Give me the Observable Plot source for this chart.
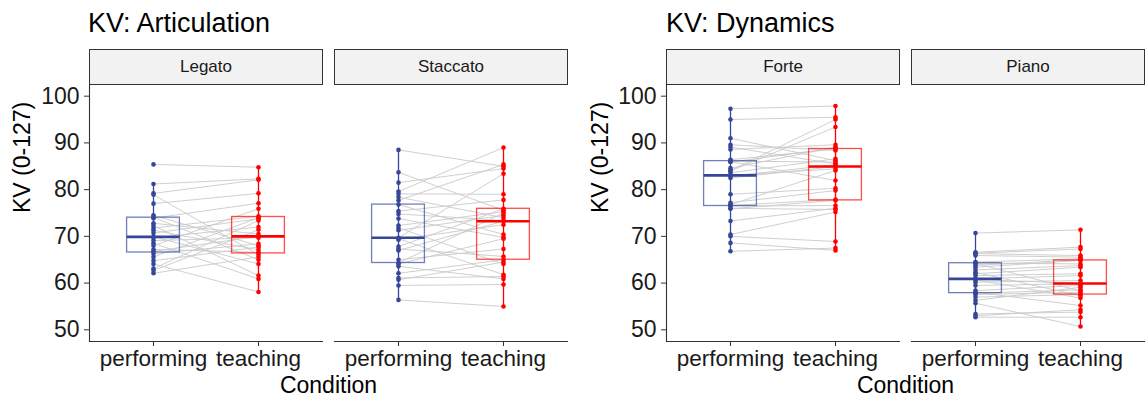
<!DOCTYPE html>
<html><head><meta charset="utf-8">
<script src="https://cdn.jsdelivr.net/npm/d3@7"></script>
<script src="https://cdn.jsdelivr.net/npm/@observablehq/plot@0.6"></script>
<style>
body{margin:0;background:#fff;font-family:"Liberation Sans",Arial,sans-serif;}
#wrap{position:relative;width:1147px;height:399px;overflow:hidden;background:#fff;}
.chart{position:absolute;top:0;height:399px;}
.title{position:absolute;top:10px;font-size:27px;line-height:27px;color:#000;white-space:nowrap;}
.plot{position:absolute;top:40px;left:0;}
</style></head><body>
<div id="wrap">
  <div class="chart" style="left:0;width:573px"><div class="title" style="left:88px">KV: Articulation</div><div class="plot" id="p1"></div></div>
  <div class="chart" style="left:573px;width:574px"><div class="title" style="left:93px">KV: Dynamics</div><div class="plot" id="p2"></div></div>
</div>
<script>
const conditions = ["performing", "teaching"];
const articulationFacets = ["Legato", "Staccato"];
const dynamicsFacets = ["Forte", "Piano"];
const yTicks = [50, 60, 70, 80, 90, 100];
const yLimits = [50, 100];
const colors = ["#36479a", "#ff0000"];

// paired values per participant (same index = same participant)
const legatoPerforming = [85.4, 81.2, 79.2, 78.9, 77.0, 74.5, 74.1, 73.9, 72.8, 72.3, 71.8, 71.3, 70.7, 69.9, 69.7, 69.1, 68.5, 68.0, 67.2, 66.8, 66.3, 65.6, 64.8, 64.1, 63.1, 62.7, 62.1];
const legatoTeaching   = [84.8, 82.3, 82.1, 66.1, 79.2, 68.0, 65.0, 77.1, 70.5, 61.6, 74.3, 67.1, 73.8, 64.1, 72.0, 69.7, 60.9, 75.9, 66.6, 70.0, 68.4, 74.0, 67.7, 58.1, 73.4, 71.4, 65.6];

const staccatoPerforming = [88.5, 83.7, 81.5, 79.6, 79.1, 78.4, 77.7, 76.8, 75.4, 74.8, 73.8, 72.3, 71.8, 71.3, 69.7, 69.5, 69.3, 67.8, 67.3, 67.0, 65.0, 64.3, 64.1, 63.6, 62.1, 61.1, 60.7, 59.5, 56.4];
const staccatoTeaching   = [85.0, 75.6, 84.5, 89.0, 79.0, 74.0, 85.4, 70.4, 77.8, 73.4, 69.8, 75.3, 64.1, 74.5, 83.4, 61.8, 72.5, 75.9, 65.7, 73.25, 67.3, 75.0, 69.5, 60.9, 65.0, 61.4, 64.5, 59.7, 55.0];

const fortePerforming = [97.3, 95.0, 91.0, 89.6, 89.1, 88.6, 86.4, 86.1, 86.0, 85.9, 84.6, 84.1, 84.0, 83.6, 83.05, 82.9, 82.5, 79.0, 77.2, 76.8, 76.6, 76.5, 76.0, 75.9, 73.3, 70.4, 70.0, 68.6, 66.8];
const forteTeaching   = [97.9, 95.5, 86.2, 88.4, 85.5, 89.6, 88.7, 85.9, 81.96, 88.9, 89.1, 95.0, 93.4, 86.6, 84.45, 85.3, 84.95, 80.3, 79.8, 84.1, 77.9, 76.6, 75.75, 77.7, 76.0, 75.2, 68.9, 67.0, 67.5];

const pianoPerforming = [70.7, 66.6, 66.4, 66.3, 65.9, 64.5, 64.3, 64.25, 63.8, 63.4, 62.8, 62.3, 62.0, 61.6, 60.9, 60.8, 60.7, 60.2, 59.5, 58.4, 58.05, 57.85, 57.55, 57.0, 56.3, 55.7, 53.4, 53.0, 52.7];
const pianoTeaching   = [71.4, 67.7, 67.3, 65.9, 65.55, 65.2, 64.1, 58.3, 65.0, 64.85, 63.75, 57.3, 63.4, 62.0, 61.6, 59.9, 56.8, 60.55, 59.85, 59.5, 55.2, 58.55, 58.05, 57.55, 59.1, 50.7, 53.8, 54.3, 52.7];

function buildRows(facets, perfs, teachs) {
  const rows = [];
  facets.forEach((f, i) => {
    perfs[i].forEach((v, j) => rows.push({facet: f, cond: conditions[0], id: f + j, value: v}));
    teachs[i].forEach((v, j) => rows.push({facet: f, cond: conditions[1], id: f + j, value: v}));
  });
  return rows;
}

function stats(values) {
  const s = values.slice().sort(d3.ascending);
  const q1 = d3.quantile(s, 0.25), q3 = d3.quantile(s, 0.75), iqr = q3 - q1;
  return {s, lo: q1 - 1.5 * iqr, hi: q3 + 1.5 * iqr};
}
const whiskerLo = values => { const {s, lo} = stats(values); return d3.min(s.filter(v => v >= lo)); };
const whiskerHi = values => { const {s, hi} = stats(values); return d3.max(s.filter(v => v <= hi)); };

function chart(rows, facets, marginLeft, marginRight, width, yLabelDx) {
  const pad = (yLimits[1] - yLimits[0]) * 0.05;
  const inset = 15.6;
  return Plot.plot({
    width, height: 359,
    marginTop: 44, marginBottom: 58, marginLeft, marginRight,
    style: {fontFamily: "'Liberation Sans', Arial, sans-serif", color: "#1a1a1a", background: "white"},
    fx: {domain: facets, paddingInner: 12 / 245, paddingOuter: 0, axis: null, label: null},
    x: {type: "band", domain: conditions, padding: 0.2, label: null},
    y: {domain: [yLimits[0] - pad, yLimits[1] + pad], label: null},
    color: {domain: conditions, range: colors},
    marks: [
      // strips
      Plot.frame({fill: "#f2f2f2", stroke: "#333", strokeWidth: 1, insetTop: -35, insetBottom: 257}),
      Plot.text(facets, {fx: d => d, text: d => d, frameAnchor: "top", dy: -17.5, lineAnchor: "middle", fontSize: 17, fill: "#1a1a1a"}),
      // axis lines
      Plot.frame({anchor: "bottom", stroke: "#333", strokeWidth: 1.1}),
      Plot.frame({anchor: "left", stroke: "#333", strokeWidth: 1.1, fx: facets[0]}),
      Plot.axisY({ticks: yTicks, tickSize: 5, tickPadding: 5, fontSize: 23, label: null, stroke: "#333"}),
      Plot.axisX({tickSize: 5, tickPadding: 4, fontSize: 22.5, label: null, stroke: "#333"}),
      Plot.text(["Condition"], {frameAnchor: "bottom", dy: 35, lineAnchor: "top", fontSize: 23, facet: "super", fill: "#000"}),
      Plot.text(["KV (0-127)"], {frameAnchor: "left", dx: yLabelDx, rotate: -90, lineAnchor: "middle", fontSize: 23, facet: "super", fill: "#000"}),
      // paired lines
      Plot.line(rows, {x: "cond", y: "value", fx: "facet", z: "id", stroke: "#c9c9c9", strokeWidth: 0.9}),
      // whiskers
      Plot.ruleX(rows, Plot.groupX({y1: whiskerLo, y2: whiskerHi}, {x: "cond", y: "value", fx: "facet", stroke: "cond", strokeWidth: 1.3})),
      // boxes
      Plot.barY(rows, Plot.groupX({y1: "p25", y2: "p75"}, {x: "cond", y: "value", fx: "facet", stroke: "cond", fill: "none", strokeOpacity: 0.7, strokeWidth: 1.3, insetLeft: inset, insetRight: inset})),
      Plot.tickY(rows, Plot.groupX({y: "p50"}, {x: "cond", y: "value", fx: "facet", stroke: "cond", strokeWidth: 2.6, insetLeft: inset, insetRight: inset})),
      // points
      Plot.dot(rows, {x: "cond", y: "value", fx: "facet", fill: "cond", r: 2.3})
    ]
  });
}

const artRows = buildRows(articulationFacets, [legatoPerforming, staccatoPerforming], [legatoTeaching, staccatoTeaching]);
const dynRows = buildRows(dynamicsFacets, [fortePerforming, pianoPerforming], [forteTeaching, pianoTeaching]);

document.getElementById("p1").append(chart(artRows, articulationFacets, 89, 6, 573, -67));
document.getElementById("p2").append(chart(dynRows, dynamicsFacets, 93, 3, 574, -66));
</script>
</body></html>
